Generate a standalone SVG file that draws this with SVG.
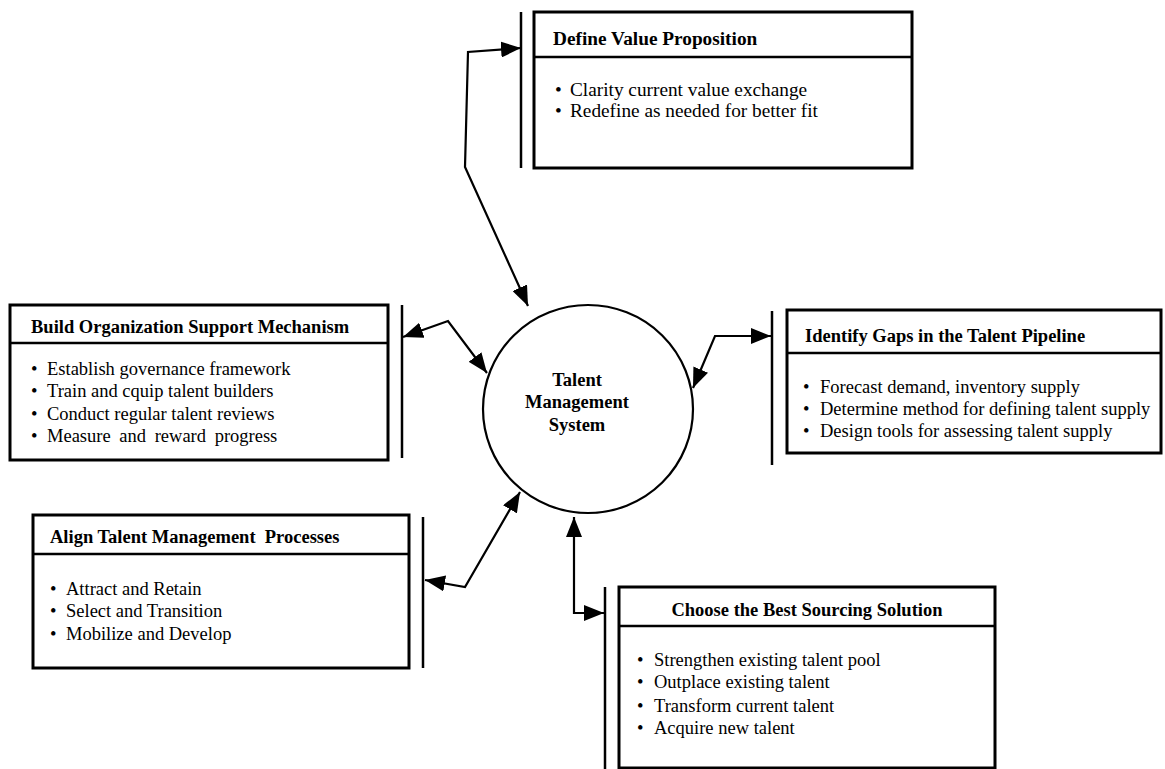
<svg xmlns="http://www.w3.org/2000/svg" width="1165" height="769" viewBox="0 0 1165 769">
<style>
.box{fill:#fff;stroke:#000;stroke-width:3}
.div{stroke:#000;stroke-width:2.5}
.bar{stroke:#000;stroke-width:2.5}
.t{font-family:"Liberation Serif","Times New Roman",serif;font-size:18.5px;fill:#000}
.d{font-size:19.3px}
.b{font-weight:bold}
.con{fill:none;stroke:#000;stroke-width:2.2;marker-start:url(#ah);marker-end:url(#ah)}
</style>
<defs>
<marker id="ah" viewBox="0 0 20 16" refX="20" refY="8" markerWidth="20" markerHeight="16" markerUnits="userSpaceOnUse" orient="auto-start-reverse">
<path d="M0,0 L20,8 L0,16 z" fill="#000"/>
</marker>
</defs>
<rect width="1165" height="769" fill="#fff"/>

<g id="center">
<ellipse cx="588" cy="409" rx="105" ry="104" fill="#fff" stroke="#000" stroke-width="2.2"/>
<text class="t b" x="577" y="386" text-anchor="middle">Talent</text>
<text class="t b" x="577" y="408" text-anchor="middle">Management</text>
<text class="t b" x="577" y="431" text-anchor="middle">System</text>
</g>

<g id="define">
<line class="bar" x1="521" y1="12" x2="521" y2="168"/>
<rect class="box" x="534" y="12" width="378" height="156"/>
<line class="div" x1="534" y1="57" x2="912" y2="57"/>
<text class="t d b" x="553" y="45">Define Value Proposition</text>
<text class="t d" x="555" y="96">•<tspan x="570">Clarity current value exchange</tspan></text>
<text class="t d" x="555" y="117">•<tspan x="570">Redefine as needed for better fit</tspan></text>
</g>

<g id="build">
<line class="bar" x1="402" y1="305" x2="402" y2="458"/>
<rect class="box" x="10" y="305" width="378" height="155"/>
<line class="div" x1="10" y1="343" x2="388" y2="343"/>
<text class="t b" x="31" y="333">Build Organization Support Mechanism</text>
<text class="t" x="31" y="375">•<tspan x="47">Establish governance framework</tspan></text>
<text class="t" x="31" y="397">•<tspan x="47">Train and cquip talent builders</tspan></text>
<text class="t" x="31" y="420">•<tspan x="47">Conduct regular talent reviews</tspan></text>
<text class="t" x="31" y="442">•<tspan x="47" word-spacing="4">Measure and reward progress</tspan></text>
</g>

<g id="identify">
<line class="bar" x1="772" y1="311" x2="772" y2="465"/>
<rect class="box" x="787" y="310" width="374" height="143"/>
<line class="div" x1="787" y1="353" x2="1161" y2="353"/>
<text class="t b" x="805" y="342">Identify Gaps in the Talent Pipeline</text>
<text class="t" x="803" y="393">•<tspan x="820">Forecast demand, inventory supply</tspan></text>
<text class="t" x="803" y="415">•<tspan x="820">Determine method for defining talent supply</tspan></text>
<text class="t" x="803" y="437">•<tspan x="820">Design tools for assessing talent supply</tspan></text>
</g>

<g id="align">
<line class="bar" x1="423" y1="517" x2="423" y2="668"/>
<rect class="box" x="33" y="515" width="376" height="153"/>
<line class="div" x1="33" y1="554" x2="409" y2="554"/>
<text class="t b" x="50" y="543" xml:space="preserve">Align Talent Management  Processes</text>
<text class="t" x="50" y="595">•<tspan x="66">Attract and Retain</tspan></text>
<text class="t" x="50" y="617">•<tspan x="66">Select and Transition</tspan></text>
<text class="t" x="50" y="640">•<tspan x="66">Mobilize and Develop</tspan></text>
</g>

<g id="choose">
<line class="bar" x1="605" y1="587" x2="605" y2="769"/>
<rect class="box" x="619" y="587" width="376" height="181"/>
<line class="div" x1="619" y1="626" x2="995" y2="626"/>
<text class="t b" x="807" y="616" text-anchor="middle">Choose the Best Sourcing Solution</text>
<text class="t" x="637" y="666">•<tspan x="654">Strengthen existing talent pool</tspan></text>
<text class="t" x="637" y="688">•<tspan x="654">Outplace existing talent</tspan></text>
<text class="t" x="637" y="712">•<tspan x="654">Transform current talent</tspan></text>
<text class="t" x="637" y="734">•<tspan x="654">Acquire new talent</tspan></text>
</g>

<g id="connectors">
<path class="con" d="M528,306 L465,167 L468,52 L521,48"/>
<path class="con" d="M403,337 L448,321 L487,373"/>
<path class="con" d="M771,336 L715,336 L693,388"/>
<path class="con" d="M425,580 L465,587 L520,492"/>
<path class="con" d="M574,517 L574,613 L604,613"/>
</g>
</svg>
